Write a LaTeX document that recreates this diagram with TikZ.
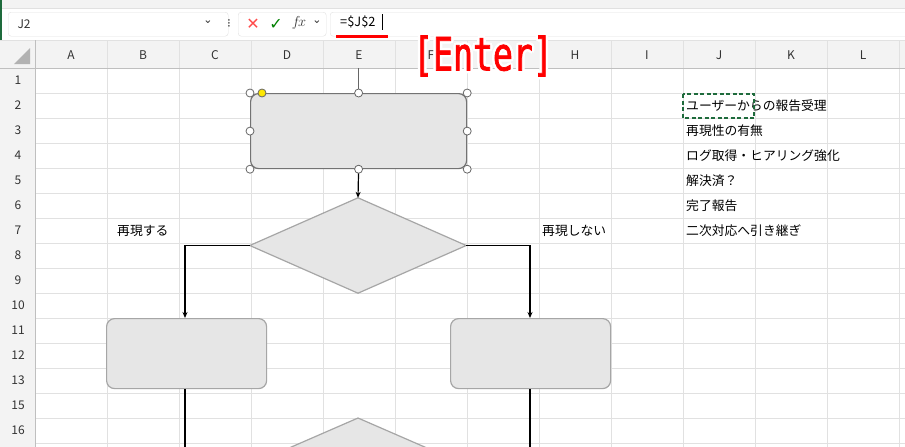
\documentclass[tikz,border=0pt]{standalone}
\usepackage{fontspec}
\setmainfont{Noto Sans CJK JP}
\newfontfamily\djv{DejaVu Sans}
\newfontfamily\entf[FakeStretch=0.72,FakeBold=1.5]{DejaVu Sans Mono}
\usetikzlibrary{arrows.meta}
\definecolor{grid}{HTML}{E1E1E1}
\definecolor{hdr}{HTML}{F3F3F3}
\definecolor{shp}{HTML}{E6E6E6}
\definecolor{shpl}{HTML}{A6A6A6}
\definecolor{xlgreen}{HTML}{1E6B3C}
\tikzset{
  hd/.style={font=\fontsize{12}{12}\selectfont, text=black!80},
  cell/.style={font=\fontsize{12.8}{13}\selectfont, anchor=west, inner sep=0pt},
  box/.style={draw=shpl, fill=shp, line width=1.2pt, rounded corners=8pt},
  dia/.style={draw=shpl, fill=shp, line width=1.2pt},
  handle/.style={circle, draw=black!60, fill=white, line width=0.8pt, minimum size=8pt, inner sep=0pt},
  conn/.style={line width=1.2pt, -{Stealth[length=6pt,width=5pt]}},
  plain/.style={line width=1.2pt},
  ent/.style={font=\entf\fontsize{46}{48}\selectfont, inner sep=0pt}
}
\begin{document}
\begin{tikzpicture}[x=1pt,y=-1pt]
\useasboundingbox (0,0) rectangle (905,447);
\fill[white] (0,0) rectangle (905,447);
\fill[hdr] (0,0) rectangle (905,8);
\draw[grid] (0,8) -- (905,8);
\fill[xlgreen] (0,0) rectangle (2,447);
% formula bar
\node[draw=grid, rounded corners=3pt, minimum width=220pt, minimum height=24pt, anchor=north west] (namebox) at (8,12) {};
\node[hd, anchor=west] (nametxt) at (14,24) {J2};
\node[hd, font=\djv\fontsize{11}{10}\selectfont] (dd) at (208,22) {⌄};
\node[hd, font=\djv\fontsize{12}{12}\selectfont] (dots) at (229,24) {⁝};
\node[draw=grid, rounded corners=3pt, minimum width=88pt, minimum height=24pt, anchor=north west] (fxbox) at (238,12) {};
\node[text=red!70, font=\djv\fontsize{16}{16}\selectfont] (xx) at (253,24) {✕};
\node[text=green!50!black, font=\djv\fontsize{16}{16}\selectfont] (ok) at (276,24) {✓};
\node[font=\fontsize{15}{16}\selectfont, text=black!80] (fx) at (299,23) {$f\!x$};
\node[hd, font=\djv\fontsize{11}{10}\selectfont] (dd2) at (317,22) {⌄};
\node[draw=grid, rounded corners=3pt, minimum width=600pt, minimum height=24pt, anchor=north west] (fbox) at (330,12) {};
\node[cell] (ftxt) at (340,22) {=\$J\$2};
\draw[black] (382,14) -- (382,30);
\draw[red, line width=2.5pt] (336,36.5) -- (388,36.5);
% headers
\fill[hdr] (0,40) rectangle (905,68);
\fill[hdr] (0,68) rectangle (35,447);
\fill[black!30] (30,48) -- (30,64) -- (14,64) -- cycle;
\foreach \x in {107,179,...,899} \draw[grid] (\x,68) -- (\x,447);
\foreach \y in {93,118,...,443} \draw[grid] (35,\y) -- (905,\y);
\foreach \x in {35,107,179,...,899} \draw[grid] (\x,40) -- (\x,68);
\draw[grid] (0,40) -- (905,40);
\draw[black!25] (0,68) -- (905,68);
\draw[black!25] (35,40) -- (35,447);
\foreach \l [count=\i from 0] in {A,B,C,D,E,F,G,H,I,J,K,L}
  \node[hd] (col\l) at (71+72*\i,55) {\l};
\foreach \l [count=\i from 0] in {1,2,3,4,5,6,7,8,9,10,11,12,13,15,16}
  \node[hd] (row\i) at (18,80.5+25*\i) {\l};
% cell texts
\node[cell] (t1) at (686,105.5) {ユーザーからの報告受理};
\node[cell] (t2) at (686,130.5) {再現性の有無};
\node[cell] (t3) at (686,155.5) {ログ取得・ヒアリング強化};
\node[cell] (t4) at (686,180.5) {解決済？};
\node[cell] (t5) at (686,205.5) {完了報告};
\node[cell] (t6) at (686,230.5) {二次対応へ引き継ぎ};
\node[cell] (l1) at (117,230.5) {再現する};
\node[cell] (l2) at (542,230.5) {再現しない};
\draw[xlgreen, line width=1.3pt, dash pattern=on 4pt off 2.5pt] (683,94) rectangle (754,118);
% shapes
\node[box, draw=black!55, minimum width=216pt, minimum height=75pt, anchor=north west] (start) at (250,93) {};
\node[minimum width=216pt, minimum height=95pt, inner sep=0pt] (d1) at (358,245.5) {};
\draw[dia] (d1.west) -- (d1.north) -- (d1.east) -- (d1.south) -- cycle;
\node[box, minimum width=160pt, minimum height=70pt, anchor=north west] (lb) at (106,318) {};
\node[box, minimum width=160pt, minimum height=70pt, anchor=north west] (rb) at (450,318) {};
\coordinate (d2t) at (358,418);
\draw[dia] (250,465) -- (d2t) -- (466,465);
% connectors
\draw[conn] (start.south) -- (d1.north);
\draw[conn] (d1.west) -| (lb.north -| 185,0);
\draw[conn] (d1.east) -| (rb.north -| 530,0);
\coordinate (lbot) at (185,447);
\coordinate (rbot) at (530,447);
\draw[plain] (lb.south -| 185,0) -- (lbot);
\draw[plain] (rb.south -| 530,0) -- (rbot);
% handles
\coordinate (rot) at (start.north |- 0,68);
\draw[black!60, line width=0.8pt] (rot) -- (start.north);
\foreach \a in {north west,north,north east,east,south east,south,south west,west}
  \node[handle] at (start.\a) {};
\node[handle, fill=yellow!90!orange] (adj) at (262,93) {};
% Enter label
\foreach \dx/\dy in {-2.5/0,2.5/0,0/-2.5,0/2.5,-1.8/-1.8,1.8/1.8,-1.8/1.8,1.8/-1.8}
  \node[ent, text=white] at (483+\dx,56+\dy) {[Enter]};
\node[ent, text=red] (enter) at (483,56) {[Enter]};
\end{tikzpicture}
\end{document}
